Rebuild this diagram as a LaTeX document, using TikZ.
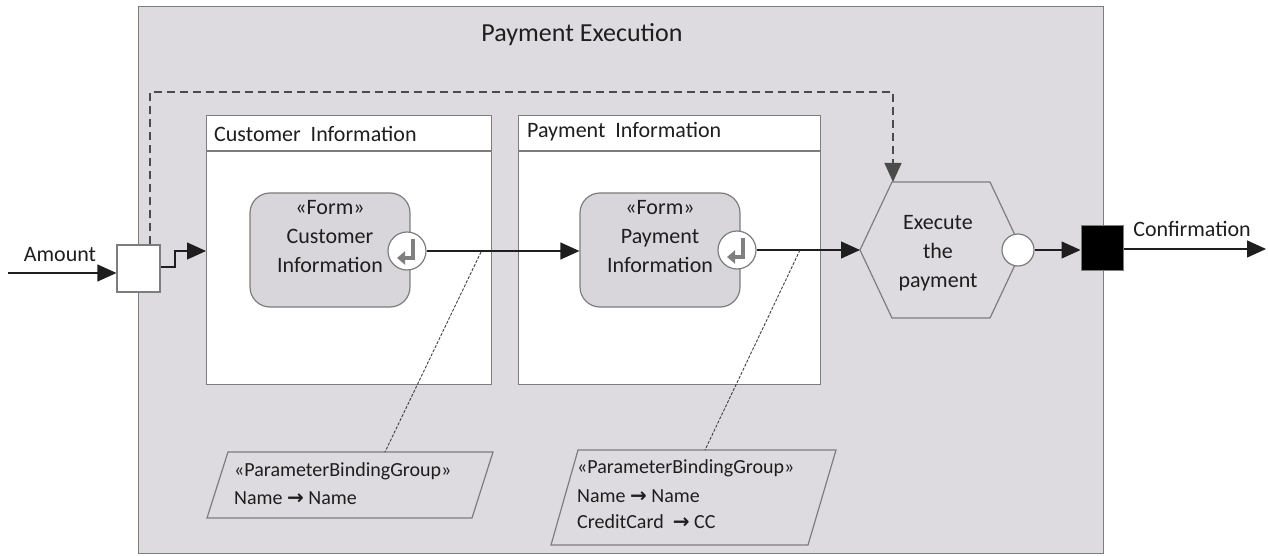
\documentclass[tikz,border=0pt]{standalone}
\usepackage{fontspec}
\setmainfont{Carlito}
\newfontfamily\arrowfont{DejaVu Sans}
\usetikzlibrary{arrows.meta}
\definecolor{bggray}{RGB}{221,219,223}
\definecolor{formgray}{RGB}{216,214,219}
\definecolor{edgegray}{RGB}{125,125,125}
\definecolor{inkc}{RGB}{30,30,30}
\definecolor{icongray}{RGB}{128,128,128}
\newcommand{\rarr}{{\arrowfont\bfseries\fontsize{20}{20}\selectfont →}}
\begin{document}
\begin{tikzpicture}[x=1pt,y=-1pt,
  lbl/.style={font=\fontsize{22}{29}\selectfont, text=inkc, inner sep=0pt},
  small/.style={font=\fontsize{20}{26}\selectfont, text=inkc, inner sep=0pt},
  outerbox/.style={draw=edgegray, fill=bggray, line width=1.2pt, inner sep=0pt},
  actbox/.style={draw=edgegray, fill=white, line width=1.2pt, inner sep=0pt},
  formbox/.style={draw=edgegray, fill=formgray, line width=1.2pt, rounded corners=20pt, inner sep=0pt},
  pinbox/.style={draw=edgegray, fill=white, line width=1.2pt, inner sep=0pt},
  retpin/.style={circle, draw=edgegray, fill=white, line width=1.2pt, minimum size=38pt, inner sep=0pt},
  conn/.style={draw=inkc, line width=1.2pt, -{Triangle[length=19pt,width=17pt]}},
  dconn/.style={draw=inkc!80, line width=1.2pt, dash pattern=on 8pt off 5pt, -{Triangle[length=19pt,width=17pt]}},
  bindline/.style={draw=inkc!85, line width=0.9pt, dash pattern=on 3pt off 1.5pt},
  iconst/.style={draw=icongray, line width=4.5pt, -{Triangle[length=8pt,width=13pt]}},
  pgram/.style={draw=edgegray, fill=bggray, line width=1.2pt}
]
\useasboundingbox (0,0) rectangle (1268,556);

% frame
\node[outerbox, minimum width=965pt, minimum height=547pt, anchor=north west] (frame) at (138,6) {};
\node[lbl, font=\fontsize{26}{30}\selectfont] (title) at (582,35) {Payment Execution};

% actions
\node[actbox, minimum width=285pt, minimum height=269pt, anchor=north west] (cbox) at (206,115) {};
\draw[draw=edgegray, line width=1.2pt] (cbox.west |- 0,151) -- (cbox.east |- 0,151);
\node[lbl, anchor=west] (chead) at (214,134) {Customer\ \ Information};

\node[actbox, minimum width=302pt, minimum height=269pt, anchor=north west] (pbox) at (518,115) {};
\draw[draw=edgegray, line width=1.2pt] (pbox.west |- 0,151) -- (pbox.east |- 0,151);
\node[lbl, anchor=west] (phead) at (527,132) {Payment\ \ Information};

% forms
\node[formbox, minimum width=160pt, minimum height=114pt] (f1) at (330,250) {};
\node[lbl, align=center] (f1t) at (330,237) {«Form»\\Customer\\Information};
\node[retpin] (r1) at (407,251) {};
\draw[iconst] ([shift={(6,-12)}]r1.center) -- ++(0,19) -- ++(-16,0);

\node[formbox, minimum width=160pt, minimum height=114pt] (f2) at (660,250) {};
\node[lbl, align=center] (f2t) at (660,237) {«Form»\\Payment\\Information};
\node[retpin] (r2) at (737,250) {};
\draw[iconst] ([shift={(6,-12)}]r2.center) -- ++(0,19) -- ++(-16,0);

% hexagon
\coordinate (hexL) at (860,250);
\coordinate (hexTL) at (892,182);
\coordinate (hexTR) at (990,182);
\coordinate (hexR) at (1022,250);
\coordinate (hexBR) at (990,318);
\coordinate (hexBL) at (892,318);
\coordinate (hexTop) at (893,182);
\draw[draw=edgegray, fill=bggray, line width=1.2pt] (hexL) -- (hexTL) -- (hexTR) -- (hexR) -- (hexBR) -- (hexBL) -- cycle;
\node[lbl, align=center] (hext) at (938,253) {Execute\\the\\payment};
\node[circle, draw=edgegray, fill=white, line width=1.2pt, minimum size=32pt, inner sep=0pt] (hout) at (1018,250) {};

% pins
\node[pinbox, minimum width=43pt, minimum height=47pt] (inpin) at (138.5,268.5) {};
\node[draw=edgegray, fill=black, line width=1pt, minimum width=42pt, minimum height=45pt, inner sep=0pt] (opin) at (1102,247.5) {};

% connectors
\coordinate (amtStart) at (8,273);
\draw[conn] (amtStart) -- (amtStart -| inpin.west);
\node[lbl] (amt) at (60,255) {Amount};
\draw[conn] (inpin.east |- 0,267) -- (175,267) -- (175,251) -- (cbox.west |- 0,251);
\draw[dconn] (inpin.north -| 150,0) -- (150,92) -| (hexTop);
\draw[conn] (r1.east) -- (r1.east -| f2.west);
\draw[conn] (r2.east) -- (hexL);
\draw[conn] (hout.east) -- (opin.west |- hout.east);
\coordinate (confEnd) at (1266,249);
\draw[conn] (opin.east |- confEnd) -- (confEnd);
\node[lbl] (conf) at (1192,229) {Confirmation};

% parameter binding groups
\draw[pgram] (228,452) -- (493,452) -- (472,518) -- (207,518) -- cycle;
\coordinate (pb1top) at (385,452);
\coordinate (b1) at (481,252);
\draw[bindline] (b1) -- (pb1top);
\node[small, anchor=west] (pb1a) at (234,471) {«ParameterBindingGroup»};
\node[small, anchor=west] (pb1b) at (234,498) {Name \rarr{} Name};

\draw[pgram] (578,450) -- (836,450) -- (808,545) -- (551,545) -- cycle;
\coordinate (pb2top) at (705,450);
\coordinate (b2) at (800,250);
\draw[bindline] (b2) -- (pb2top);
\node[small, anchor=west] (pb2a) at (577,468) {«ParameterBindingGroup»};
\node[small, anchor=west] (pb2b) at (577,496) {Name \rarr{} Name};
\node[small, anchor=west] (pb2c) at (577,522) {CreditCard\ \ \rarr{} CC};
\end{tikzpicture}
\end{document}
